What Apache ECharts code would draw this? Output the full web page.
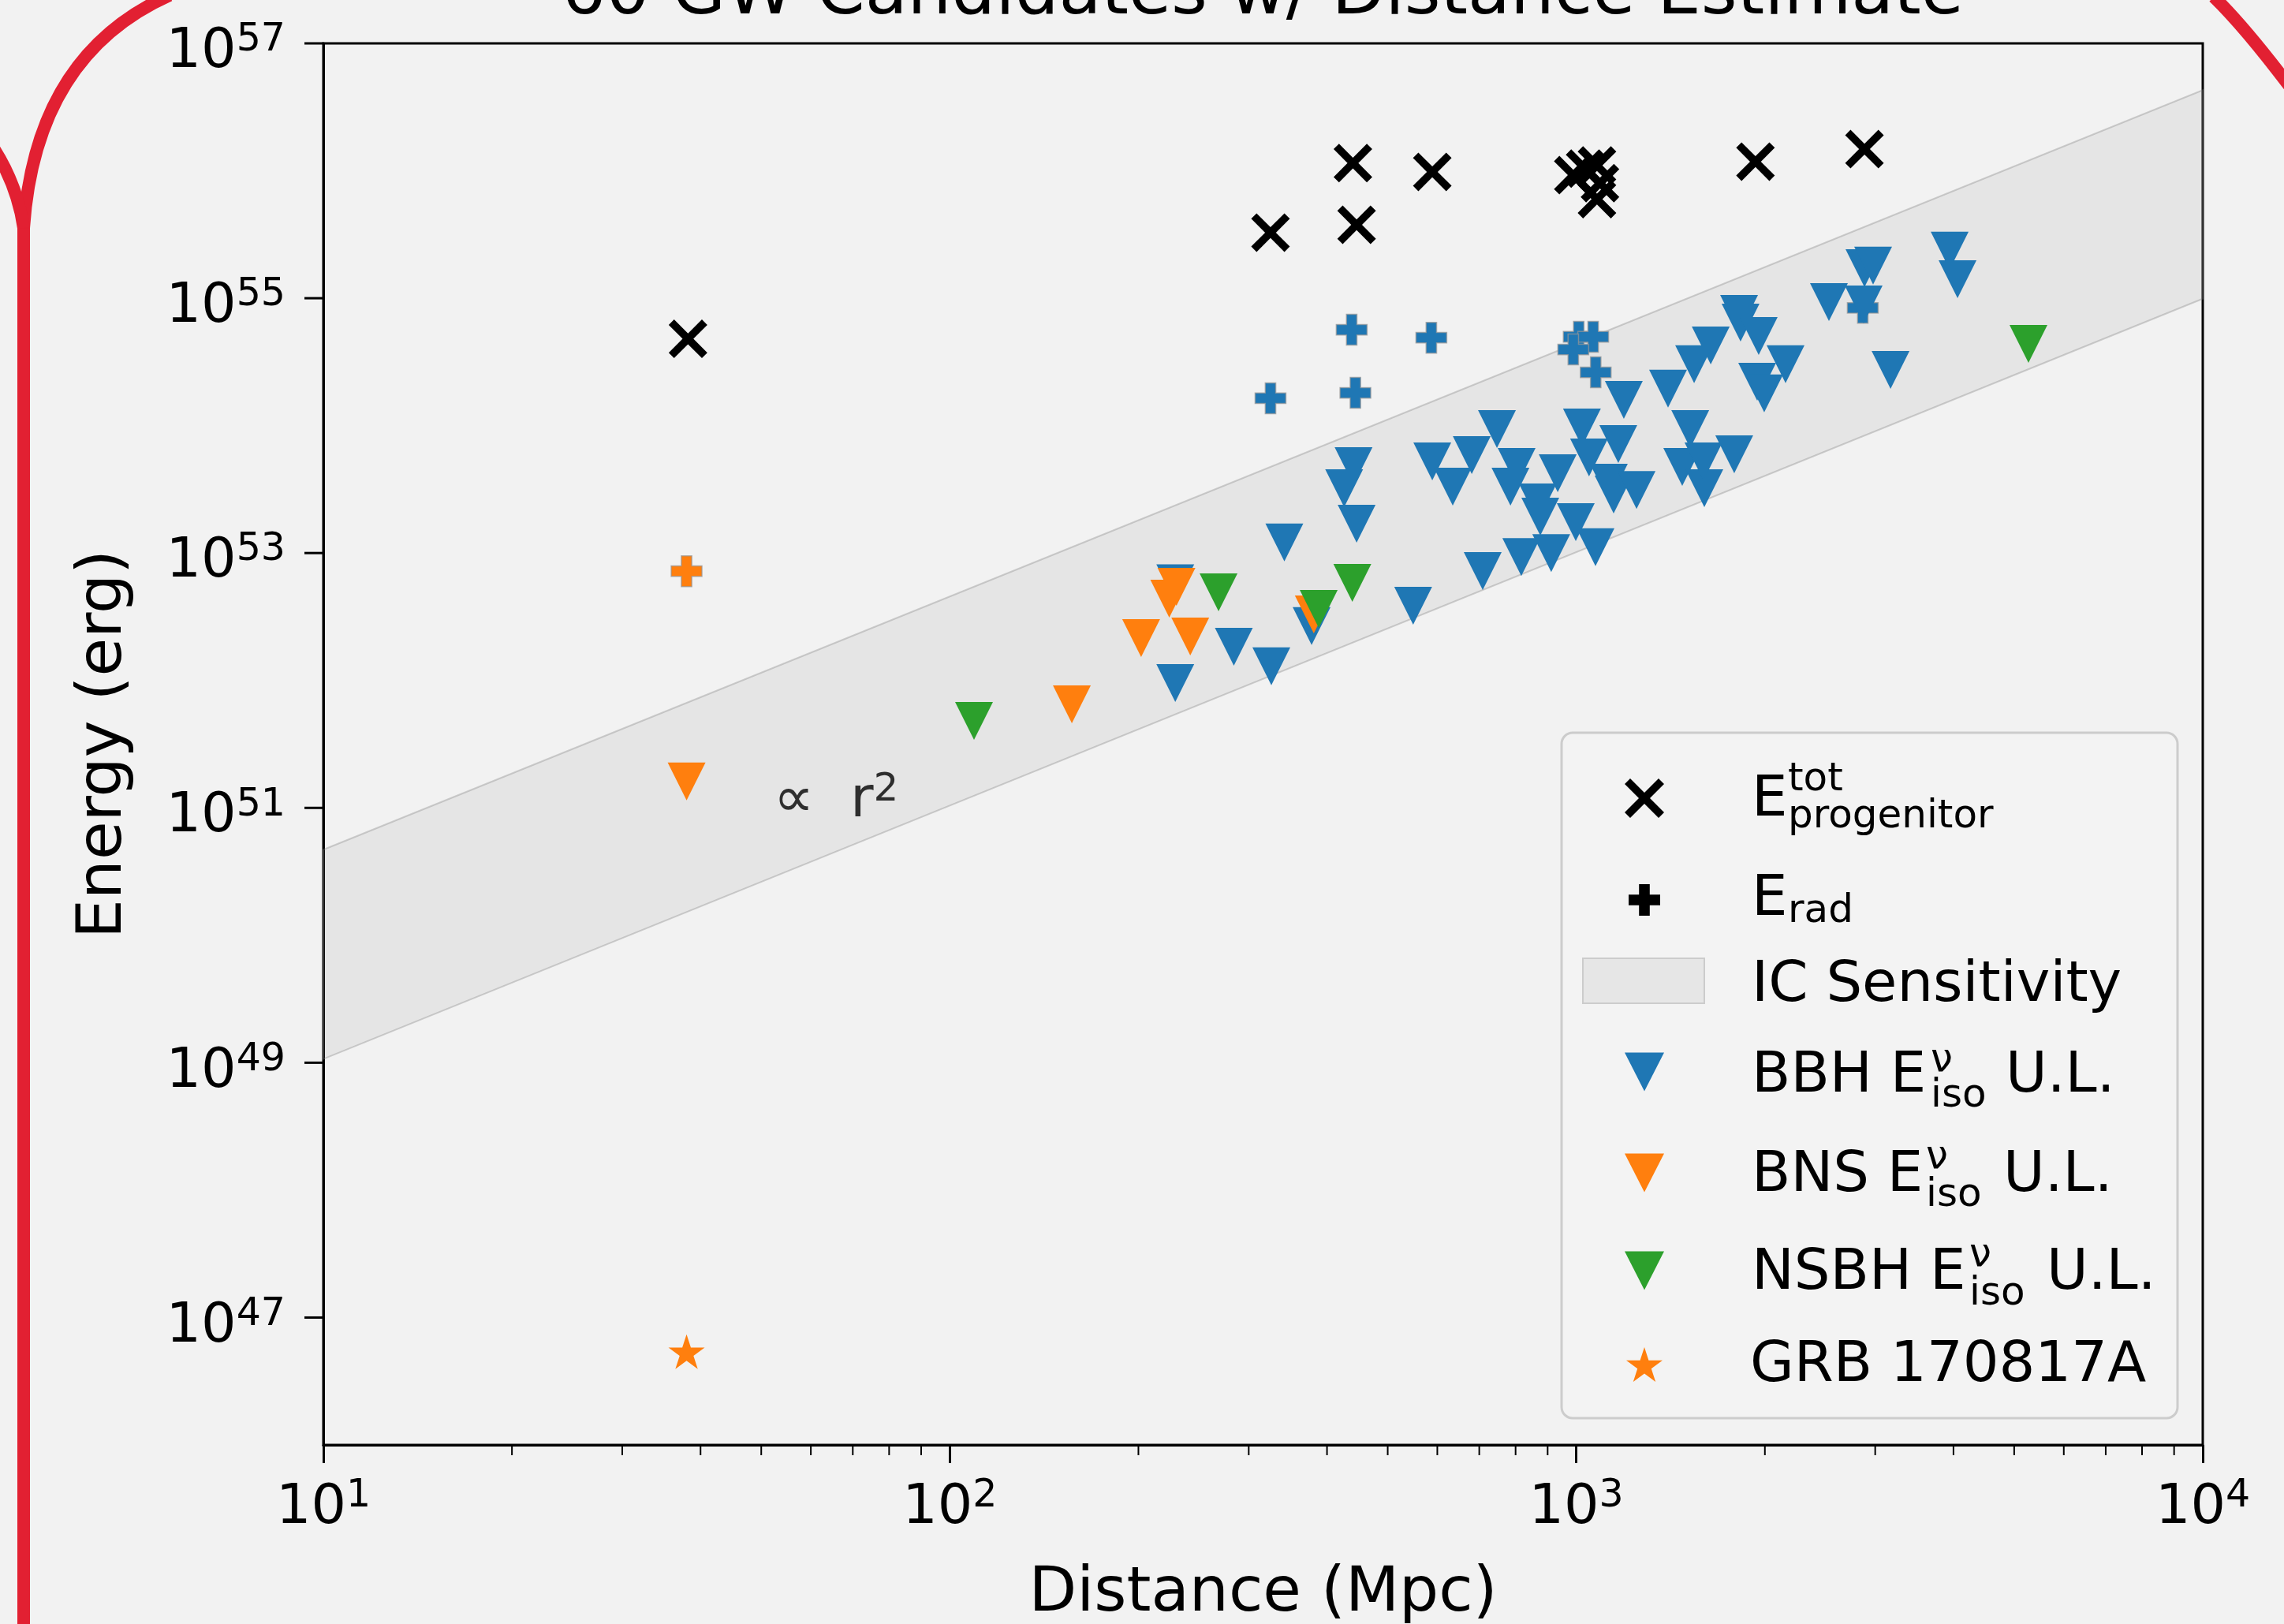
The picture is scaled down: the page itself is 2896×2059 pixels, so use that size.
<!DOCTYPE html>
<html><head><meta charset="utf-8">
<script src="https://cdn.jsdelivr.net/npm/echarts@6/dist/echarts.min.js"></script>
<style>html,body{margin:0;padding:0;background:#f2f2f2;}#c{width:2896px;height:2059px;}</style>
</head><body><div id="c"></div>
<script>
// ---------------- data (distance in Mpc, energy in erg) ----------------
const titleText = '60 GW Candidates w/ Distance Estimate';
const xAxisName = 'Distance (Mpc)';
const yAxisName = 'Energy (erg)';

const progenitorTot = [[38.2,4.8e54],[325,3.27e55],[446,3.77e55],[440,1.15e56],[589,9.8e55],[989,9.25e55],
  [1033,1.04e56],[1079,1.1e56],[1091,8.0e55],[1079,6.0e55],[1932,1.18e56],[2884,1.48e56]];
const eradBBH = [[325,1.64e54],[444,1.81e54],[438,5.66e54],[587,4.9e54],[1009,4.98e54],[1064,4.98e54],
  [989,3.96e54],[1074,2.62e54],[2866,8.4e54]];
const eradBNS = [[38,7.2e52]];
const bbhUL = [[229,5.8e52],[229,9.55e51],[284,1.84e52],[326,1.29e52],[342,1.21e53],[378,2.67e52],[441,4.81e53],
  [426,3.23e53],[446,1.70e53],[549,3.86e52],[589,5.24e53],[681,5.87e53],[747,9.4e53],[635,3.32e53],[803,4.74e53],
  [785,3.32e53],[934,4.23e53],[868,2.50e53],[876,1.93e53],[998,1.75e53],[912,1.0e53],[817,9.3e52],[1073,1.11e53],
  [1021,9.66e53],[1048,5.62e53],[1167,7.16e53],[1127,3.56e53],[1147,2.88e53],[1248,3.13e53],[1191,1.59e54],
  [1401,1.95e54],[1520,9.4e53],[1476,4.74e53],[1601,3.23e53],[1596,5.24e53],[1787,5.96e53],[709,7.23e52],
  [1819,7.53e54],[1829,6.44e54],[1955,5.05e54],[1639,4.26e54],[1542,3.03e54],[2158,3.03e54],[1944,2.21e54],
  [1995,1.79e54],[2531,9.33e54],[2875,8.93e54],[2884,1.72e55],[2977,1.80e55],[3174,2.74e54],[3944,2.36e55],[4060,1.41e55]];
const bnsUL = [[38,1.61e51],[156.6,6.5e51],[202,2.15e52],[242,2.21e52],[230,5.43e52],[224,4.39e52],[381,3.30e52]];
const nsbhUL = [[109.3,4.82e51],[268.5,4.92e52],[388,3.65e52],[439,5.83e52],[5270,4.38e54]];
const grb170817A = [[38,5.4e46]];
const bandLower = [[10,1.07e49],[10000,9.9e54]];
const bandUpper = [[10,4.7e50],[10000,4.3e56]];
const annotation = [[52.3,1.17e51]];
const xMinorTicks = [20,30,40,50,60,70,80,90,200,300,400,500,600,700,800,900,2000,3000,4000,5000,6000,7000,8000,9000];
const yMajorTicks = [1e47,1e49,1e51,1e53,1e55,1e57];
const X_MIN = 10, X_MAX = 1e4, Y_MIN = 1e46, Y_MAX = 1e57;

// ---------------- styles / marker shapes ----------------
const FONT = 'DejaVu Sans';
const BLUE = '#1f77b4', ORANGE = '#ff7f0e', GREEN = '#2ca02c', RED = '#e22032';
const X_PTS = [[0,14],[14,0],[50,36],[86,0],[100,14],[64,50],[100,86],[86,100],[50,64],[14,100],[0,86],[36,50]];
const PLUS_PTS = [[33,0],[67,0],[67,33],[100,33],[100,67],[67,67],[67,100],[33,100],[33,67],[0,67],[0,33],[33,33]];
const TRI_PTS = [[0,0],[100,0],[50,100]];
const STAR_PTS = [[50,0],[61.23,34.55],[97.55,34.55],[68.17,55.9],[79.39,90.45],[50,69.1],[20.61,90.45],[31.83,55.9],[2.45,34.55],[38.77,34.55]];
const toPath = pts => 'path://M' + pts.map(p => p[0] + ',' + p[1]).join(' L') + ' Z';

const expRich = {
  b: {fontSize: 70, lineHeight: 70, fontFamily: FONT, color: '#000', padding: [10, 0, 0, 0]},
  s: {fontSize: 49, lineHeight: 49, fontFamily: FONT, color: '#000', verticalAlign: 'top'}
};
const expLabel = v => '{b|10}{s|' + Math.round(Math.log10(v)) + '}';

function scatter(name, data, pts, size, color, border) {
  const itemStyle = {color, opacity: 1};
  if (border) { itemStyle.borderColor = border; itemStyle.borderWidth = 1.5; }
  return {type: 'scatter', name, data, symbol: toPath(pts), symbolSize: size,
    itemStyle, emphasis: {disabled: true}, silent: true};
}

const chart = echarts.init(document.getElementById('c'), null, {renderer: 'canvas', width: 2896, height: 2059});

// legend (drawn as graphic)
const LF = 72, SF = 50, MID = 0.27;
function txt(x, base, s, fs) {
  return {type: 'text', x, y: base - MID * fs, z: 101,
    style: {text: s, fill: '#000', font: fs + 'px "' + FONT + '"', align: 'left', verticalAlign: 'middle'}};
}
function sym(pts, cx, cy, w, h, color) {
  const xs = pts.map(p => p[0]), ys = pts.map(p => p[1]);
  const x0 = Math.min(...xs), x1 = Math.max(...xs), y0 = Math.min(...ys), y1 = Math.max(...ys);
  const P = pts.map(p => [cx - w / 2 + (p[0] - x0) / (x1 - x0) * w, cy - h / 2 + (p[1] - y0) / (y1 - y0) * h]);
  return {type: 'polygon', z: 101, shape: {points: P}, style: {fill: color}};
}
const legendGraphic = [
  {type: 'rect', z: 100, shape: {x: 1980, y: 929, width: 781, height: 869, r: 14},
    style: {fill: 'rgba(242,242,242,0.8)', stroke: '#cccccc', lineWidth: 3}},
  sym(X_PTS, 2085, 1012, 50, 50, '#000'),
  txt(2221, 1035, 'E', LF), txt(2267, 1003, 'tot', SF), txt(2267, 1050, 'progenitor', SF),
  sym(PLUS_PTS, 2085, 1141, 40, 40, '#000'),
  txt(2221, 1161, 'E', LF), txt(2267, 1170, 'rad', SF),
  {type: 'rect', z: 101, shape: {x: 2007, y: 1215, width: 154, height: 57},
    style: {fill: '#e6e6e6', stroke: '#cccccc', lineWidth: 2}},
  txt(2221, 1270, 'IC Sensitivity', LF),
  sym(TRI_PTS, 2085, 1359, 50, 49, BLUE),
  txt(2221, 1385, 'BBH E', LF), txt(2448, 1359, 'ν', SF), txt(2448, 1404, 'iso', SF), txt(2543, 1385, 'U.L.', LF),
  sym(TRI_PTS, 2085, 1487, 50, 49, ORANGE),
  txt(2221, 1511, 'BNS E', LF), txt(2442, 1482, 'ν', SF), txt(2442, 1530, 'iso', SF), txt(2540, 1511, 'U.L.', LF),
  sym(TRI_PTS, 2085, 1611, 50, 49, GREEN),
  txt(2221, 1635, 'NSBH E', LF), txt(2497, 1606, 'ν', SF), txt(2497, 1655, 'iso', SF), txt(2595, 1635, 'U.L.', LF),
  sym(STAR_PTS, 2085, 1730, 46, 44, ORANGE),
  txt(2219, 1752, 'GRB 170817A', LF)
];
const titleGraphic = {type: 'text', x: 1601, y: 18 - MID * 88, z: 50,
  style: {text: titleText, fill: '#000', font: '88px "' + FONT + '"', align: 'center', verticalAlign: 'middle'}};
const frameGraphic = [
  {type: 'line', z: 200, shape: {x1: 30, y1: 2075, x2: 30, y2: 289}, style: {stroke: RED, lineWidth: 16}},
  {type: 'bezierCurve', z: 200, shape: {x1: 30, y1: 289, cpx1: 45, cpy1: 70, x2: 215, y2: -6}, style: {fill: null, stroke: RED, lineWidth: 16}},
  {type: 'bezierCurve', z: 200, shape: {x1: 30, y1: 289, cpx1: 22, cpy1: 235, x2: -8, y2: 188}, style: {fill: null, stroke: RED, lineWidth: 16}},
  {type: 'bezierCurve', z: 200, shape: {x1: 2807, y1: -4, cpx1: 2848, cpy1: 36, x2: 2908, y2: 116}, style: {fill: null, stroke: RED, lineWidth: 16}}
];

const option = {
  animation: false,
  backgroundColor: '#f2f2f2',
  textStyle: {fontFamily: FONT},
  grid: {left: 410, right: 103, top: 55, bottom: 227, containLabel: false, outerBoundsMode: 'none',
    show: true, backgroundColor: '#f2f2f2', borderColor: '#000', borderWidth: 3},
  xAxis: {
    type: 'log', logBase: 10, min: X_MIN, max: X_MAX, splitNumber: 3,
    name: xAxisName, nameLocation: 'middle', nameGap: 150,
    nameTextStyle: {fontSize: 79, color: '#000', fontFamily: FONT},
    axisLine: {show: true, lineStyle: {color: '#000', width: 3}},
    axisTick: {show: true, inside: false, length: 23, lineStyle: {color: '#000', width: 3}},
    minorTick: {show: false}, splitLine: {show: false},
    axisLabel: {show: true, margin: 41, formatter: expLabel, rich: expRich, showMinLabel: true, showMaxLabel: true, hideOverlap: false}
  },
  yAxis: {
    type: 'log', logBase: 10, min: Y_MIN, max: Y_MAX,
    name: yAxisName, nameLocation: 'middle', nameGap: 238, nameRotate: 90,
    nameTextStyle: {fontSize: 79, color: '#000', fontFamily: FONT},
    axisLine: {show: true, lineStyle: {color: '#000', width: 3}},
    axisTick: {show: false}, axisLabel: {show: false}, splitLine: {show: false}, minorTick: {show: false}
  },
  graphic: [titleGraphic].concat(legendGraphic, frameGraphic),
  series: [
    scatter('E_tot_progenitor', progenitorTot, X_PTS, [49, 49], '#000'),
    scatter('E_rad', eradBBH, PLUS_PTS, [39, 39], BLUE, 'rgba(150,150,150,0.7)'),
    scatter('E_rad (BNS)', eradBNS, PLUS_PTS, [39, 39], ORANGE, 'rgba(150,150,150,0.7)'),
    {
      type: 'custom', name: 'IC Sensitivity', coordinateSystem: 'cartesian2d', silent: true,
      data: [bandLower[0]], encode: {x: 0, y: 1},
      renderItem: function (params, api) {
        const pts = bandLower.map(p => api.coord(p)).concat(bandUpper.slice().reverse().map(p => api.coord(p)));
        return {type: 'polygon', shape: {points: pts},
          style: {fill: 'rgba(128,128,128,0.11)', stroke: 'rgba(128,128,128,0.35)', lineWidth: 2}};
      }
    },
    scatter('BBH U.L.', bbhUL, TRI_PTS, [48, 48], BLUE),
    scatter('BNS U.L.', bnsUL, TRI_PTS, [48, 48], ORANGE),
    scatter('NSBH U.L.', nsbhUL, TRI_PTS, [48, 48], GREEN),
    scatter('GRB 170817A', grb170817A, STAR_PTS, [46, 44], ORANGE),
    {
      type: 'scatter', name: 'annotation', data: annotation, symbolSize: 0, silent: true,
      itemStyle: {color: 'rgba(0,0,0,0)'},
      label: {show: true, position: 'right', distance: 0, formatter: '{a|∝  r}{s|2}',
        rich: {a: {fontSize: 72, lineHeight: 72, fontFamily: FONT, color: '#000', padding: [6, 0, 0, 0]},
               s: {fontSize: 50, lineHeight: 50, fontFamily: FONT, color: '#000', verticalAlign: 'top'}}}
    },
    {
      type: 'custom', name: 'xMinor', coordinateSystem: 'cartesian2d', silent: true,
      data: xMinorTicks.map(v => [v, Y_MIN]), encode: {x: 0, y: 1},
      renderItem: function (params, api) {
        const p = api.coord([api.value(0), api.value(1)]);
        return {type: 'line', shape: {x1: p[0], y1: p[1], x2: p[0], y2: p[1] + 13}, style: {stroke: '#000', lineWidth: 2}};
      }
    },
    {
      type: 'custom', name: 'yMajor', coordinateSystem: 'cartesian2d', silent: true,
      data: yMajorTicks.map(v => [X_MIN, v]), encode: {x: 0, y: 1},
      renderItem: function (params, api) {
        const v = api.value(1);
        const p = api.coord([api.value(0), v]);
        return {type: 'group', children: [
          {type: 'line', shape: {x1: p[0] - 24, y1: p[1], x2: p[0], y2: p[1]}, style: {stroke: '#000', lineWidth: 3}},
          {type: 'text', x: p[0] - 48, y: p[1] + 7,
            style: {text: expLabel(v), rich: expRich, align: 'right', verticalAlign: 'middle', fill: '#000'}}
        ]};
      }
    }
  ]
};
chart.setOption(option);
</script></body></html>
